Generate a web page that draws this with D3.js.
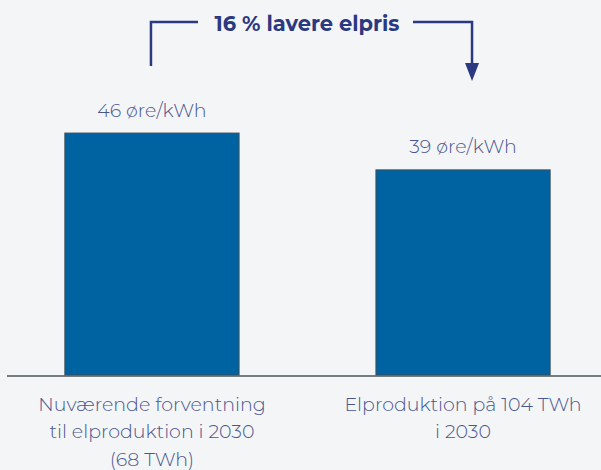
<!DOCTYPE html>
<html>
<head>
<meta charset="utf-8">
<script src="https://cdn.jsdelivr.net/npm/d3@7"></script>
<style>
  html, body { margin: 0; padding: 0; background: #f4f5f7; }
  svg { display: block; }
</style>
</head>
<body>
<script>
// Elpris i 2030 ved to scenarier for elproduktion
const categories = ["Nuværende forventning til elproduktion i 2030 (68 TWh)", "Elproduktion på 104 TWh i 2030"];
const categoryLines = [
  ["Nuværende forventning", "til elproduktion i 2030", "(68 TWh)"],
  ["Elproduktion på 104 TWh", "i 2030"]
];
const prices = [46, 39];
const unit = "øre/kWh";
const headline = "16 % lavere elpris";

const W = 601, H = 470;
const baseY = 375;
const font = "Montserrat, 'Open Sans', Lato, sans-serif";
const textColor = "#4a5590";
const accent = "#2b3980";

const svg = d3.select("body").append("svg")
  .attr("width", W).attr("height", H)
  .style("background", "#f4f5f7");

const x = d3.scaleBand()
  .domain(categories)
  .range([7, 608])
  .paddingInner(0.44)
  .paddingOuter(0.186);

const y = d3.scaleLinear()
  .domain([0, 71.3])
  .range([baseY, 0]);

// Bars
svg.selectAll("rect.bar")
  .data(prices)
  .join("rect")
  .attr("class", "bar")
  .attr("x", (d, i) => x(categories[i]))
  .attr("y", d => y(d))
  .attr("width", x.bandwidth())
  .attr("height", d => y(0) - y(d))
  .attr("fill", "#0063a1")
  .attr("stroke", "#3d4d5a")
  .attr("stroke-width", 1);

// Baseline
svg.append("line")
  .attr("x1", 7).attr("x2", W)
  .attr("y1", baseY + 1).attr("y2", baseY + 1)
  .attr("stroke", "#4a5458")
  .attr("stroke-width", 1.5);

// Value labels
svg.selectAll("text.value")
  .data(prices)
  .join("text")
  .attr("class", "value")
  .attr("x", (d, i) => x(categories[i]) + x.bandwidth() / 2)
  .attr("y", d => y(d) - 16.5)
  .attr("text-anchor", "middle")
  .attr("font-family", font)
  .attr("font-size", 19)
  .attr("font-weight", 300)
  .attr("fill", textColor)
  .text(d => `${d} ${unit}`);

// Category labels
const catG = svg.selectAll("g.cat")
  .data(categories)
  .join("g")
  .attr("class", "cat")
  .attr("transform", d => `translate(${x(d) + x.bandwidth() / 2},0)`);

catG.selectAll("text")
  .data((d, i) => categoryLines[i])
  .join("text")
  .attr("x", 0)
  .attr("y", (d, j) => 411 + j * 27.3)
  .attr("text-anchor", "middle")
  .attr("font-family", font)
  .attr("font-size", 19)
  .attr("font-weight", 300)
  .attr("fill", textColor)
  .text(d => d);

// Difference bracket with arrow
const leftX = x(categories[0]) + x.bandwidth() / 2 - 1;
const rightX = x(categories[1]) + x.bandwidth() / 2 + 9;
const bracketY = 22;

svg.append("path")
  .attr("d", `M${leftX},66 V${bracketY} H198`)
  .attr("fill", "none")
  .attr("stroke", accent)
  .attr("stroke-width", 2.5);

svg.append("path")
  .attr("d", `M413,${bracketY} H${rightX} V66`)
  .attr("fill", "none")
  .attr("stroke", accent)
  .attr("stroke-width", 2.5);

svg.append("path")
  .attr("d", `M${rightX - 7},63 L${rightX + 7},63 L${rightX},81 Z`)
  .attr("fill", accent);

svg.append("text")
  .attr("x", 307)
  .attr("y", 31)
  .attr("text-anchor", "middle")
  .attr("font-family", font)
  .attr("font-size", 21)
  .attr("font-weight", 700)
  .attr("fill", accent)
  .text(headline);
</script>
</body>
</html>
